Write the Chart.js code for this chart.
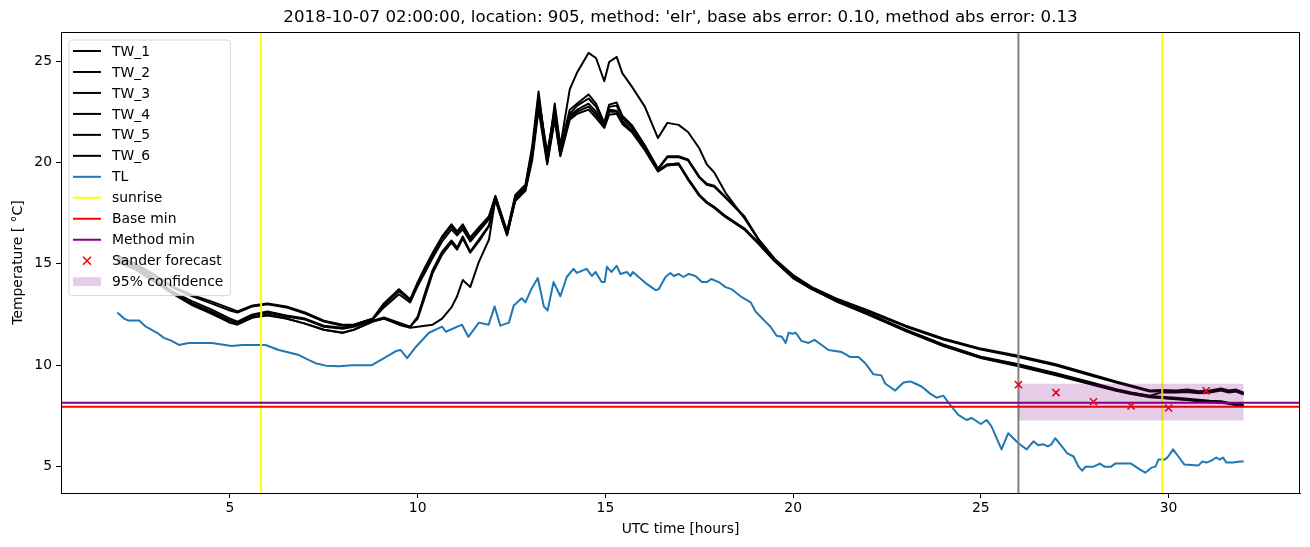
<!DOCTYPE html>
<html><head><meta charset="utf-8">
<script src="https://cdn.jsdelivr.net/npm/chart.js@4.4.1/dist/chart.umd.min.js"></script>
<style>html,body{margin:0;padding:0;background:#fff;}#wrap{width:1310px;height:547px;}</style>
</head><body><div id="wrap"><canvas id="c" width="1310" height="547"></canvas></div>
<script>
// ---------------- DATA ----------------
const TITLE = "2018-10-07 02:00:00, location: 905, method: 'elr', base abs error: 0.10, method abs error: 0.13";
const X_LABEL = "UTC time [hours]";
const Y_LABEL = "Temperature [ °C]";

const twTime = [2.0,2.5,3.0,3.5,4.0,4.5,5.0,5.2,5.6,6.0,6.5,7.0,7.5,8.0,8.3,8.8,9.1,9.5,9.8,10.0,10.2,10.4,10.65,10.9,11.05,11.2,11.4,11.63,11.9,12.07,12.38,12.6,12.87,13.05,13.22,13.45,13.65,13.8,14.05,14.25,14.55,14.75,14.97,15.1,15.3,15.45,15.7,16.05,16.4,16.65,16.95,17.2,17.5,17.7,17.9,18.2,18.7,19.1,19.5,20.0,20.5,21.2,22.0,23.0,24.0,25.0,26.0,27.0,28.0,28.6,29.0,29.5,29.8,30.2,30.5,30.8,31.1,31.4,31.6,31.8,32.0];
const tw1 = [15.4,15.0,14.45,13.85,13.45,13.15,12.8,12.65,12.95,13.05,12.9,12.6,12.2,12.0,12.0,12.3,13.05,13.75,13.25,14.1,14.85,15.55,16.35,16.95,16.6,16.95,16.3,16.8,17.35,18.35,16.6,18.4,18.9,20.8,23.5,20.0,22.9,20.8,23.6,24.45,25.4,25.15,24.0,24.95,25.2,24.4,23.75,22.75,21.2,21.95,21.85,21.5,20.7,19.9,19.5,18.5,17.25,16.15,15.25,14.45,13.85,13.25,12.7,11.95,11.32,10.82,10.47,10.05,9.52,9.2,9.0,8.75,8.78,8.75,8.8,8.72,8.75,8.85,8.75,8.8,8.65];
const tw2 = [15.35,14.95,14.4,13.8,13.4,13.05,12.7,12.6,12.9,13.0,12.85,12.55,12.15,11.95,12.0,12.3,12.95,13.65,13.2,14.0,14.75,15.45,16.25,16.85,16.5,16.85,16.2,16.7,17.3,18.3,16.55,18.3,18.8,20.6,23.3,20.3,22.7,20.7,22.6,22.9,23.35,22.9,21.95,22.85,22.95,22.3,21.85,20.85,19.7,20.3,20.3,20.15,19.3,18.95,18.85,18.3,17.35,16.15,15.25,14.4,13.8,13.2,12.65,11.9,11.27,10.77,10.4,9.98,9.46,9.15,8.95,8.7,8.72,8.7,8.72,8.68,8.7,8.8,8.7,8.75,8.6];
const tw3 = [15.3,14.9,14.25,13.6,13.15,12.75,12.3,12.15,12.5,12.65,12.45,12.3,11.95,11.85,11.95,12.25,12.85,13.5,13.1,13.9,14.6,15.3,16.1,16.7,16.4,16.7,16.1,16.6,17.2,18.25,16.5,18.3,18.75,20.5,23.1,20.5,22.5,20.6,22.4,22.8,23.15,22.75,21.85,22.75,22.8,22.2,21.75,20.8,19.65,20.25,20.25,20.1,19.25,18.9,18.8,18.25,17.3,16.1,15.2,14.35,13.75,13.15,12.55,11.75,11.02,10.42,10.05,9.6,9.12,8.82,8.66,8.5,8.65,8.65,8.68,8.62,8.65,8.75,8.65,8.7,8.55];
const tw4 = [15.2,14.8,14.2,13.55,13.05,12.65,12.2,12.1,12.45,12.6,12.4,12.25,11.9,11.8,11.9,12.2,12.35,12.1,11.9,12.4,13.6,14.7,15.6,16.15,15.8,16.35,15.6,16.2,16.9,18.2,16.45,18.2,18.7,20.3,22.9,20.0,22.3,20.4,22.3,22.6,22.9,22.5,21.8,22.6,22.55,22.05,21.6,20.7,19.6,19.9,19.95,19.2,18.4,18.05,17.8,17.35,16.75,16.0,15.2,14.35,13.8,13.2,12.55,11.72,11.0,10.4,10.02,9.56,9.08,8.8,8.64,8.48,8.44,8.4,8.35,8.3,8.25,8.22,8.15,8.1,8.05];
const tw5 = [15.1,14.7,14.1,13.5,13.0,12.6,12.1,12.0,12.35,12.45,12.3,12.05,11.75,11.6,11.75,12.15,12.3,12.0,11.85,11.9,11.95,12.0,12.3,12.85,13.4,14.2,13.85,15.1,16.2,18.2,16.45,18.1,18.6,20.1,22.6,19.9,22.1,20.3,22.1,22.4,22.6,22.2,21.7,22.35,22.4,21.9,21.5,20.6,19.55,19.85,19.9,19.15,18.35,18.0,17.75,17.3,16.7,15.95,15.15,14.3,13.75,13.15,12.5,11.7,10.97,10.37,10.0,9.53,9.05,8.77,8.6,8.45,8.4,8.35,8.3,8.25,8.22,8.18,8.12,8.05,8.0];
const tw6 = [15.2,14.8,14.15,13.5,12.95,12.55,12.1,12.05,12.35,12.5,12.3,12.05,11.75,11.6,11.75,12.15,12.3,12.05,11.9,12.3,13.4,14.55,15.45,16.05,15.7,16.25,15.55,16.1,16.85,18.15,16.4,18.2,18.65,20.3,22.8,20.1,22.2,20.4,22.2,22.5,22.75,22.35,21.75,22.5,22.5,22.0,21.55,20.65,19.6,19.9,19.95,19.2,18.4,18.05,17.8,17.35,16.7,15.95,15.15,14.3,13.75,13.1,12.5,11.68,10.95,10.35,9.95,9.5,9.02,8.74,8.58,8.42,8.38,8.32,8.28,8.22,8.18,8.15,8.1,8.02,7.98];

const tlTime = [2.0,2.18,2.3,2.58,2.76,3.06,3.24,3.45,3.64,3.9,4.52,5.05,5.32,5.95,6.3,6.84,7.05,7.28,7.55,7.9,8.25,8.78,9.15,9.42,9.55,9.72,9.95,10.3,10.65,10.75,11.18,11.35,11.63,11.89,12.05,12.2,12.43,12.56,12.77,12.87,13.04,13.2,13.36,13.46,13.62,13.8,13.97,14.15,14.24,14.5,14.64,14.74,14.9,14.98,15.04,15.16,15.3,15.4,15.57,15.67,15.73,16.07,16.34,16.42,16.6,16.73,16.82,16.95,17.08,17.22,17.4,17.57,17.7,17.82,18.02,18.2,18.36,18.6,18.87,19.0,19.26,19.4,19.56,19.7,19.8,19.88,19.98,20.07,20.22,20.41,20.57,20.76,20.94,21.29,21.39,21.52,21.74,21.92,22.14,22.35,22.45,22.72,22.94,23.12,23.25,23.42,23.65,23.82,24.0,24.18,24.4,24.62,24.75,24.88,25.0,25.15,25.28,25.55,25.73,26.0,26.22,26.4,26.53,26.67,26.78,26.88,26.98,27.2,27.3,27.47,27.6,27.7,27.79,28.0,28.17,28.29,28.47,28.58,29.0,29.24,29.38,29.54,29.65,29.73,29.91,29.99,30.12,30.26,30.42,30.79,30.9,31.01,31.14,31.27,31.36,31.45,31.54,31.72,31.9,32.0];
const tlValues = [12.6,12.3,12.2,12.2,11.9,11.6,11.35,11.2,11.0,11.1,11.1,10.95,11.0,11.0,10.75,10.5,10.3,10.1,9.98,9.95,10.0,10.0,10.4,10.7,10.75,10.35,10.9,11.6,11.9,11.65,12.0,11.4,12.1,12.0,12.9,11.95,12.1,12.95,13.3,13.1,13.8,14.3,12.9,12.7,14.1,13.4,14.35,14.75,14.55,14.75,14.4,14.6,14.1,14.1,14.85,14.6,14.9,14.5,14.6,14.4,14.6,14.05,13.7,13.75,14.35,14.55,14.4,14.5,14.35,14.5,14.4,14.1,14.1,14.25,14.1,13.85,13.75,13.4,13.1,12.65,12.15,11.9,11.45,11.4,11.1,11.6,11.55,11.6,11.2,11.1,11.25,11.0,10.75,10.65,10.55,10.4,10.4,10.1,9.55,9.5,9.1,8.75,9.15,9.2,9.1,8.95,8.6,8.4,8.5,8.05,7.55,7.3,7.4,7.25,7.1,7.3,7.0,5.85,6.65,6.15,5.85,6.25,6.05,6.1,6.0,6.1,6.4,5.9,5.65,5.5,5.0,4.8,5.0,5.0,5.15,5.0,5.0,5.15,5.15,4.85,4.7,4.95,5.0,5.35,5.35,5.5,5.85,5.5,5.1,5.05,5.25,5.2,5.3,5.45,5.35,5.45,5.2,5.2,5.25,5.25];

const sunriseTimes = [5.83, 29.83];
const forecastStart = 26.0;
const baseMin = 7.95;
const methodMin = 8.15;
const sanderTime = [26, 27, 28, 29, 30, 31];
const sanderValues = [9.04, 8.65, 8.2, 7.99, 7.89, 8.74];
const confTime = [26, 32];
const confUpper = 9.09;
const confLower = 7.27;

const xTicks = [5, 10, 15, 20, 25, 30];
const yTicks = [5, 10, 15, 20, 25];
const xLimits = [0.5, 33.5];
const yLimits = [3.7, 26.43];

// ---------------- BUILD ----------------
const FONT = "'DejaVu Sans', 'Liberation Sans', sans-serif";
const FS = 13.9;
const pts = (xs, ys) => xs.map((x, i) => ({x: x, y: ys[i]}));
const twSeries = [tw1, tw2, tw3, tw4, tw5, tw6];
const datasets = [];
twSeries.forEach((s, i) => datasets.push({label: 'TW_' + (i + 1), data: pts(twTime, s), borderColor: '#000000', borderWidth: 2, legendKind: 'line'}));
datasets.push({label: 'TL', data: pts(tlTime, tlValues), borderColor: '#1f77b4', borderWidth: 2, legendKind: 'line'});
sunriseTimes.forEach((t, i) => datasets.push({label: i === 0 ? 'sunrise' : null, data: [{x: t, y: yLimits[0]}, {x: t, y: yLimits[1]}], borderColor: '#ffff00', borderWidth: 2, legendKind: 'line'}));
datasets.push({label: null, data: [{x: forecastStart, y: yLimits[0]}, {x: forecastStart, y: yLimits[1]}], borderColor: '#808080', borderWidth: 2});
datasets.push({label: 'Base min', data: [{x: xLimits[0], y: baseMin}, {x: xLimits[1], y: baseMin}], borderColor: '#ff0000', borderWidth: 2, legendKind: 'line'});
datasets.push({label: 'Method min', data: [{x: xLimits[0], y: methodMin}, {x: xLimits[1], y: methodMin}], borderColor: '#800080', borderWidth: 2, legendKind: 'line'});
datasets.push({label: 'Sander forecast', data: pts(sanderTime, sanderValues), showLine: false, borderColor: '#ff0000', backgroundColor: '#ff0000', pointStyle: 'crossRot', pointRadius: 5, pointBorderWidth: 1.6, legendKind: 'x'});
datasets.push({label: '95% confidence', data: confTime.map(t => ({x: t, y: confUpper})), borderWidth: 0, borderColor: 'rgba(0,0,0,0)', backgroundColor: 'rgba(128,0,128,0.2)', fill: {value: confLower}, legendKind: 'patch'});
const N = datasets.length;
datasets.forEach((d, i) => {
  d.order = N - i;
  if (d.pointRadius === undefined) d.pointRadius = 0;
  d.tension = 0;
  d.borderJoinStyle = 'round';
  if (d.fill === undefined) d.fill = false;
});

const framePlugin = {
  id: 'frame',
  afterDatasetsDraw(chart) {
    const {ctx, chartArea: a} = chart;
    ctx.save();
    ctx.strokeStyle = '#000';
    ctx.lineWidth = 1;
    ctx.strokeRect(Math.round(a.left) + 0.5, Math.round(a.top) + 0.5, Math.round(a.right - a.left) - 1, Math.round(a.bottom - a.top));
    ctx.restore();
  }
};

// axes title (matplotlib centres it over the axes box)
const titlePlugin = {
  id: 'axTitle',
  afterDraw(chart) {
    const {ctx, chartArea: a} = chart;
    ctx.save();
    ctx.font = '16.67px ' + FONT;
    ctx.fillStyle = '#000';
    ctx.textAlign = 'center';
    ctx.textBaseline = 'middle';
    ctx.fillText(TITLE, (a.left + a.right) / 2, a.top - 14);
    ctx.restore();
  }
};

const legendPlugin = {
  id: 'mplLegend',
  afterDraw(chart) {
    const {ctx, chartArea: a} = chart;
    const items = chart.data.datasets.filter(d => d.label);
    ctx.save();
    ctx.font = FS + 'px ' + FONT;
    let maxW = 0;
    items.forEach(d => { maxW = Math.max(maxW, ctx.measureText(d.label).width); });
    const bx = a.left + 8, by = a.top + 8;
    const rowH = 20.97;
    const textX = bx + 43;
    const bw = 43 + maxW + 7;
    const bh = rowH * items.length + 4;
    const r = 3;
    ctx.beginPath();
    ctx.moveTo(bx + r, by);
    ctx.lineTo(bx + bw - r, by); ctx.quadraticCurveTo(bx + bw, by, bx + bw, by + r);
    ctx.lineTo(bx + bw, by + bh - r); ctx.quadraticCurveTo(bx + bw, by + bh, bx + bw - r, by + bh);
    ctx.lineTo(bx + r, by + bh); ctx.quadraticCurveTo(bx, by + bh, bx, by + bh - r);
    ctx.lineTo(bx, by + r); ctx.quadraticCurveTo(bx, by, bx + r, by);
    ctx.closePath();
    ctx.fillStyle = 'rgba(255,255,255,0.8)';
    ctx.fill();
    ctx.strokeStyle = 'rgba(204,204,204,0.8)';
    ctx.lineWidth = 1;
    ctx.stroke();
    items.forEach((d, i) => {
      const cy = by + 11 + i * rowH;
      const hx0 = bx + 4, hx1 = bx + 32;
      if (d.legendKind === 'line') {
        ctx.strokeStyle = d.borderColor; ctx.lineWidth = 2;
        ctx.beginPath(); ctx.moveTo(hx0, cy); ctx.lineTo(hx1, cy); ctx.stroke();
      } else if (d.legendKind === 'x') {
        const cx = (hx0 + hx1) / 2, s = 4;
        ctx.strokeStyle = d.borderColor; ctx.lineWidth = 1.6;
        ctx.beginPath(); ctx.moveTo(cx - s, cy - s); ctx.lineTo(cx + s, cy + s);
        ctx.moveTo(cx - s, cy + s); ctx.lineTo(cx + s, cy - s); ctx.stroke();
      } else if (d.legendKind === 'patch') {
        ctx.fillStyle = d.backgroundColor;
        ctx.fillRect(hx0, cy - 4.5, hx1 - hx0, 9);
      }
      ctx.fillStyle = '#000';
      ctx.textBaseline = 'middle';
      ctx.textAlign = 'left';
      ctx.fillText(d.label, textX, cy + 1);
    });
    ctx.restore();
  }
};

Chart.defaults.font.family = FONT;
Chart.defaults.color = '#000';

new Chart(document.getElementById('c'), {
  type: 'line',
  data: {datasets: datasets},
  options: {
    responsive: false,
    animation: false,
    devicePixelRatio: 1,
    layout: {padding: {left: 0, right: 10, top: 32, bottom: 0}},
    plugins: {
      legend: {display: false},
      tooltip: {enabled: false},
      title: {display: false}
    },
    scales: {
      x: {
        type: 'linear', min: xLimits[0], max: xLimits[1],
        afterBuildTicks: s => { s.ticks = xTicks.map(v => ({value: v})); },
        afterFit: s => { s.height = 54; },
        grid: {drawOnChartArea: false, drawTicks: true, tickLength: 5, color: '#000', lineWidth: 1},
        border: {display: true, color: '#000', width: 1},
        ticks: {font: {size: FS, family: FONT}, color: '#000', padding: 2, maxRotation: 0, callback: v => String(v)},
        title: {display: true, text: X_LABEL, color: '#000', font: {size: FS, family: FONT}, padding: {top: 0, bottom: 9}}
      },
      y: {
        type: 'linear', min: yLimits[0], max: yLimits[1],
        afterBuildTicks: s => { s.ticks = yTicks.map(v => ({value: v})); },
        afterFit: s => { s.width = 61; },
        grid: {drawOnChartArea: false, drawTicks: true, tickLength: 5, color: '#000', lineWidth: 1},
        border: {display: true, color: '#000', width: 1},
        ticks: {font: {size: FS, family: FONT}, color: '#000', padding: 4, callback: v => String(v)},
        title: {display: true, text: Y_LABEL, color: '#000', font: {size: FS, family: FONT}, padding: {top: 10, bottom: 0}}
      }
    }
  },
  plugins: [framePlugin, titlePlugin, legendPlugin]
});
</script>
</body></html>
